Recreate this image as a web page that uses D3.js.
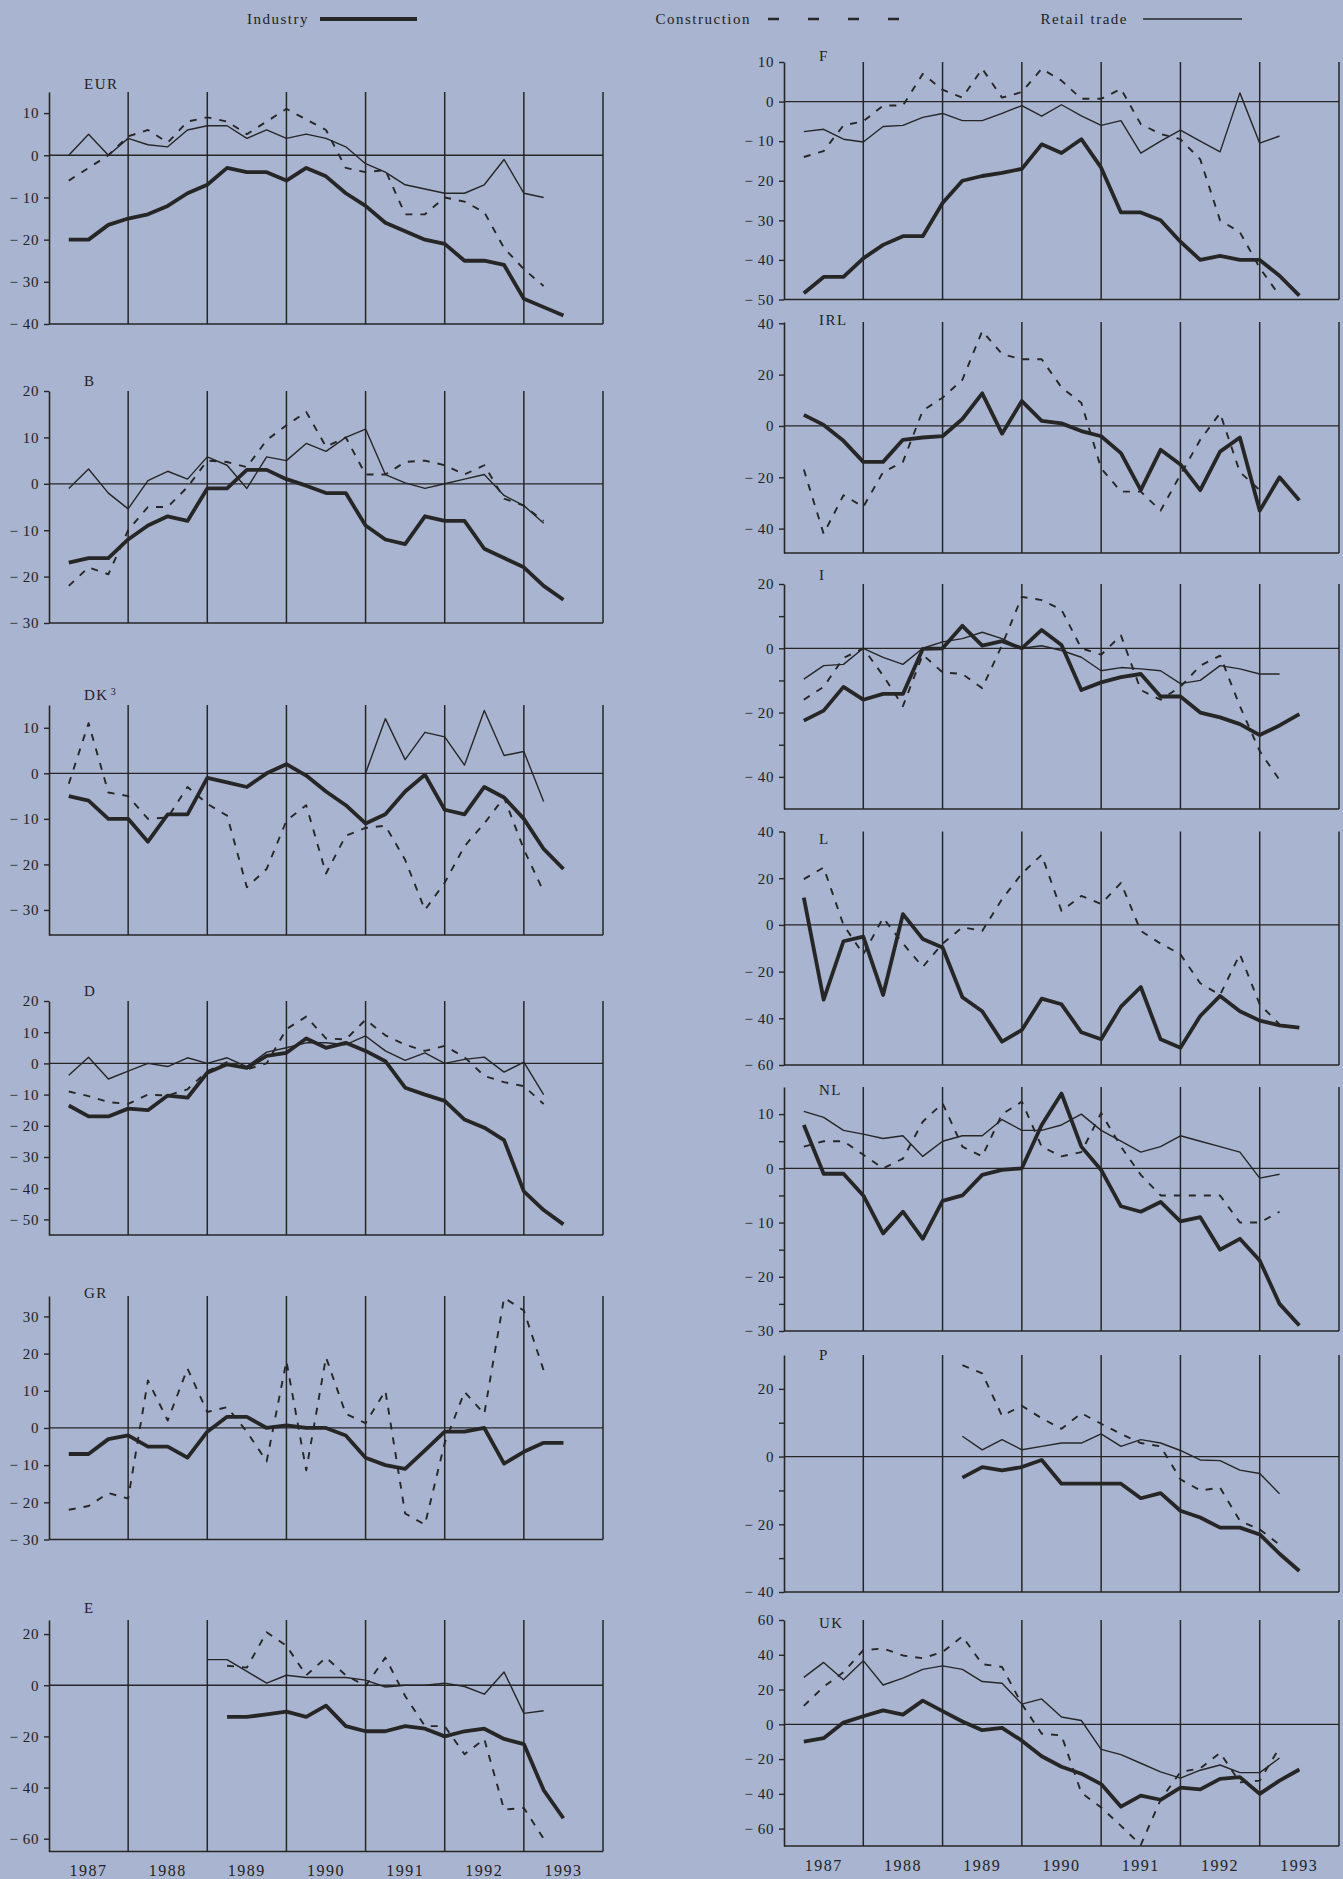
<!DOCTYPE html>
<html>
<head>
<meta charset="utf-8">
<script src="https://cdn.jsdelivr.net/npm/d3@7"></script>
<style>
  body { margin: 0; background: #a8b4d0; }
  svg { display: block; }
  text { font-family: "Liberation Serif", "DejaVu Serif", serif; fill: #222; }
</style>
</head>
<body>
<svg id="chart" width="1343" height="1879"></svg>
<script>
// Quarterly survey balances, 1987 Q1 .. 1993 Q2 (26 quarters), null = no data
const years = ['1987', '1988', '1989', '1990', '1991', '1992', '1993'];
const seriesNames = ['Industry', 'Construction', 'Retail trade'];
const _ = null;

const eurIndustry = [-20,-20,-16.5,-15,-14,-12,-9,-7,-3,-4,-4,-6,-3,-5,-9,-12,-16,-18,-20,-21,-25,-25,-26,-34,-36,-38];
const eurConstruction = [-6,-3,0,4.5,6,3,8,9,8,5,8,11,8.5,6,-3,-4,-3.5,-14,-14,-10,-11,-13.5,-22,-27,-31,_];
const eurRetail = [0,5,0,4,2.5,2,6,7,7,4,6,4,5,4,2,-2,-4,-7,-8,-9,-9,-7,-1,-9,-10,_];

const bIndustry = [-17,-16,-16,-12,-9,-7,-8,-1,-1,3,3,1,-0.4,-2,-2,-9,-12,-13,-7,-8,-8,-14,-16,-18,-22,-25];
const bConstruction = [-22,-18,-19.5,-10,-5,-5,-0.7,5,4.7,3.6,9.4,12.6,15.5,8,10,2,2,4.7,5,4,2,4,-3.2,-4.7,-8,_];
const bRetail = [-1,3.2,-2,-5.4,0.7,2.7,1,5.8,4,-1,5.8,5,8.7,7,10,11.8,2,0.2,-1,0,1,2,-2.5,-4.7,-8.5,_];

const dkIndustry = [-5,-6,-10,-10,-15,-9,-9,-1,-2,-3,0,2,-0.5,-4,-7,-11,-9,-4,-0.3,-8,-9,-3,-5.3,-10,-16.6,-21];
const dkConstruction = [-2.3,11,-4.2,-5,-10,-9.7,-3,-6.7,-9.3,-25,-21,-10.4,-7,-22,-13.7,-12,-11.5,-19,-30,-24,-16,-11,-5.3,-16.7,-26,_];
const dkRetail = [_,_,_,_,_,_,_,_,_,_,_,_,_,_,_,0,12,3,9,8,1.8,13.8,3.9,4.8,-6.2,_];

const dIndustry = [-13.5,-17,-17,-14.5,-15,-10.3,-11,-3,-0.3,-1.4,2.4,3.4,8,5,6.6,4,0.7,-7.8,-10,-12,-18,-20.6,-24.6,-41,-47,-51.6];
const dConstruction = [-9,-10.5,-12.4,-13,-10,-10.3,-8.3,-2.5,0.4,-1.9,0,11,15,8,7.7,14,9,6,4,5.6,2,-4,-6,-7.3,-13,_];
const dRetail = [-3.8,2,-5,-2.5,0,-1,1.8,0,1.8,-1,3.6,5,6.6,6.6,6,8.8,4,1,3.4,0,1.3,2,-2.8,0.4,-10,_];

const grIndustry = [-7,-7,-3,-2,-5,-5,-8,-1,3,3,0,0.7,0,0,-2,-8,-10,-11,-6,-1,-1,0,-9.6,-6.4,-4,-4];
const grConstruction = [-22,-21,-17.5,-19,12.8,2,16,4.3,5.6,-1,-9,18,-11.4,19,3.8,1.3,10,-23,-26,-4,9.7,3.8,35,31.6,15.5,_];

const eIndustry = [_,_,_,_,_,_,_,_,-12.4,-12.4,-11.4,-10.3,-12.4,-8,-16,-18,-18,-16,-17,-20,-18,-17,-21,-23,-41,-52];
const eConstruction = [_,_,_,_,_,_,_,_,7.6,6.9,20.7,15.4,3.9,10.8,3.9,-0.3,10.8,-4.2,-16,-16,-27,-21,-48.6,-48,-60,_];
const eRetail = [_,_,_,_,_,_,_,10,10,5.4,0.8,3.9,3,3,3,2,-0.7,0,0,0.8,-0.5,-3.5,5.2,-11,-10,_];

const fIndustry = [-48.4,-44.3,-44.3,-39.6,-36.2,-34,-34,-25.6,-20,-18.8,-18,-17,-10.8,-13,-9.5,-16.7,-28,-28,-30,-35.4,-40,-39,-40,-40,-44,-49];
const fConstruction = [-14,-12.5,-6,-5,-1,-1,7,3,1,8.3,1,2.4,8.3,5.3,0.7,0.7,3.2,-5.7,-8.2,-9.5,-14.6,-30,-33,-42,-49,_];
const fRetail = [-7.6,-7,-9.5,-10.2,-6.3,-6,-4,-3,-4.8,-4.8,-3,-1,-3.7,-0.8,-3.6,-6,-4.8,-13,-10,-7.2,-10,-12.7,2.2,-10.5,-8.7,_];

const irlIndustry = [4.3,0.4,-5.8,-14,-14,-5.4,-4.5,-4,2.7,12.7,-3,9.7,2,1,-2,-4,-10.6,-25,-9.3,-15,-25,-10,-4.5,-33,-20,-29];
const irlConstruction = [-17,-42,-27,-31.5,-18,-14,6,11,18,37,28,26,26,15,9,-16.5,-25.6,-25.6,-33,-19,-5.4,5,-18,-25,_,_];

const iIndustry = [-22.5,-19.4,-12,-16,-14.2,-14.2,-0.2,0,7,0.8,2.2,0,5.7,1,-13,-10.6,-9,-8,-15,-15,-20,-21.5,-23.6,-27,-24,-20.5];
const iConstruction = [-16,-12,-3,0,-8.5,-18,-2,-7.5,-8,-12.4,1,16,15,12,0,-2,4,-13,-16,-12,-5.4,-2.3,-18,-32,-41,_];
const iRetail = [-9.6,-5.4,-5,0,-2.8,-5,0,2,3,5,3,0,0.8,-0.7,-2.8,-7,-6,-6.4,-7,-11,-10,-5.4,-6.4,-8,-8,_];

const lIndustry = [11.7,-32,-7,-5,-30,4.6,-6,-9.7,-31,-37,-50,-45,-31.6,-34,-46,-49,-35,-26.6,-49,-52.6,-39,-30.4,-37,-41,-43,-44];
const lConstruction = [19.6,24.6,0,-12.6,3,-8,-18,-8,-1,-2.6,11,22,30,6,12.4,9,18,-2.6,-8,-12.6,-25,-30,-12.6,-34,-42.6,_];

const nlIndustry = [8,-1,-1,-5,-12,-8,-13,-6,-5,-1.2,-0.3,0,8,13.8,4,-0.3,-7,-8,-6.2,-9.8,-9,-15,-13,-17,-25,-29];
const nlConstruction = [4,5,5,2.5,0,1.8,8.6,12,4,2.2,10,12.3,4,2.2,3,10.2,4,-1.2,-5,-5,-5,-5,-10,-10,-8,_];
const nlRetail = [10.5,9.4,7,6.3,5.5,6,2.2,5,6,6,9,7,7,8,10,7,5,3,4,6,5,4,3,-1.8,-1.1,_];

const pIndustry = [_,_,_,_,_,_,_,_,-6.2,-3.1,-4.1,-3.1,-1,-8,-8,-8,-8,-12.3,-10.8,-16,-18,-21,-21,-23,-28.7,-33.8];
const pConstruction = [_,_,_,_,_,_,_,_,27,24.6,12,15,11.3,8.2,12.8,9.7,6.7,4,3,-6.7,-10,-9.2,-19,-21.5,-26,_];
const pRetail = [_,_,_,_,_,_,_,_,6,2,5,2,3,4,4,6.7,3,5,4,1.8,-1,-1.2,-4,-5,-11,_];

const ukIndustry = [-10,-8,1,4.6,8,5.6,13.6,7.6,1.6,-3.4,-2,-9.4,-18.4,-24.4,-28.4,-34.4,-47.4,-41,-43.4,-36.4,-37.4,-31.4,-30.4,-40,-32.4,-26];
const ukConstruction = [10.6,21.6,30,42.6,43.6,39.6,38,41.6,50.6,34.6,33,11.6,-5.4,-6.4,-39.4,-47.8,-58.4,-69.4,-43.4,-27.4,-25.4,-16.4,-33.4,-32.4,-13.4,_];
const ukRetail = [27,35.6,25.6,36.6,22.6,26.6,31.6,33.6,31.6,24.6,23.6,11.6,14.6,4.2,2.2,-14.4,-17.4,-22.4,-27.4,-31,-26.4,-23.4,-27.8,-27.8,-19.4,_];

// panel layout (pixel positions) and the series drawn in each
const columns = [{ x0: 49, x1: 603 }, { x0: 784, x1: 1339 }];
const panels = [
  { name: 'EUR', col: 0, top: 92, bottom: 324, domain: [-40, 15], ticks: [10,0,-10,-20,-30,-40], minor: [], labelY: 89, series: [eurIndustry, eurConstruction, eurRetail] },
  { name: 'B', col: 0, top: 391, bottom: 623, domain: [-30, 20], ticks: [20,10,0,-10,-20,-30], minor: [], labelY: 386, series: [bIndustry, bConstruction, bRetail] },
  { name: 'DK', sup: '3', col: 0, top: 705, bottom: 935, domain: [-35.5, 15], ticks: [10,0,-10,-20,-30], minor: [], labelY: 700, series: [dkIndustry, dkConstruction, dkRetail] },
  { name: 'D', col: 0, top: 1001, bottom: 1235, domain: [-55, 20], ticks: [20,10,0,-10,-20,-30,-40,-50], minor: [], labelY: 996, series: [dIndustry, dConstruction, dRetail] },
  { name: 'GR', col: 0, top: 1296, bottom: 1539.5, domain: [-30, 35.5], ticks: [30,20,10,0,-10,-20,-30], minor: [], labelY: 1298, series: [grIndustry, grConstruction, null] },
  { name: 'E', col: 0, top: 1620, bottom: 1851.5, domain: [-65, 25.5], ticks: [20,0,-20,-40,-60], minor: [], labelY: 1613, series: [eIndustry, eConstruction, eRetail], years: 1876 },
  { name: 'F', col: 1, top: 62, bottom: 299.5, domain: [-50, 10], ticks: [10,0,-10,-20,-30,-40,-50], minor: [], labelY: 61, series: [fIndustry, fConstruction, fRetail] },
  { name: 'IRL', col: 1, top: 322, bottom: 553, domain: [-49.5, 40.5], ticks: [40,20,0,-20,-40], minor: [], labelY: 325, series: [irlIndustry, irlConstruction, null] },
  { name: 'I', col: 1, top: 584, bottom: 809, domain: [-50, 20], ticks: [20,0,-20,-40], minor: [10,-10,-30], labelY: 580, series: [iIndustry, iConstruction, iRetail] },
  { name: 'L', col: 1, top: 831.5, bottom: 1065, domain: [-60, 40], ticks: [40,20,0,-20,-40,-60], minor: [], labelY: 844, series: [lIndustry, lConstruction, null] },
  { name: 'NL', col: 1, top: 1087, bottom: 1331, domain: [-30, 15], ticks: [10,0,-10,-20,-30], minor: [5,-5,-15,-25], labelY: 1095, series: [nlIndustry, nlConstruction, nlRetail] },
  { name: 'P', col: 1, top: 1355, bottom: 1592, domain: [-40, 30], ticks: [20,0,-20,-40], minor: [10,-10,-30], labelY: 1360, series: [pIndustry, pConstruction, pRetail] },
  { name: 'UK', col: 1, top: 1620, bottom: 1846, domain: [-70, 60], ticks: [60,40,20,0,-20,-40,-60], minor: [], labelY: 1628, series: [ukIndustry, ukConstruction, ukRetail], years: 1871 }
];

const ink = '#262626';
const seriesStyle = [
  { width: 3.8, dash: null },
  { width: 1.9, dash: '7,8' },
  { width: 1.4, dash: null }
];

const svg = d3.select('#chart');
const fmt = d => d < 0 ? '\u2212 ' + (-d) : String(d);

panels.forEach(p => {
  const c = columns[p.col];
  const x = d3.scaleLinear().domain([0, 28]).range([c.x0, c.x1]);
  const y = d3.scaleLinear().domain(p.domain).range([p.bottom, p.top]);
  const g = svg.append('g').attr('class', 'panel');

  // left axis with ticks
  const ax = g.append('g')
    .attr('transform', `translate(${c.x0},0)`)
    .call(d3.axisLeft(y).tickValues(p.ticks).tickFormat(fmt).tickSize(5).tickSizeOuter(0).tickPadding(5));
  ax.select('.domain').attr('stroke', ink).attr('stroke-width', 1.6);
  ax.selectAll('.tick line').attr('stroke', ink).attr('stroke-width', 1.4);
  ax.selectAll('.tick text').attr('font-size', 15).attr('fill', '#222')
    .attr('letter-spacing', 0.6)
    .attr('font-family', '"Liberation Serif", serif');
  if (p.minor.length) {
    const mx = g.append('g')
      .attr('transform', `translate(${c.x0},0)`)
      .call(d3.axisLeft(y).tickValues(p.minor).tickFormat('').tickSize(5).tickSizeOuter(0));
    mx.select('.domain').remove();
    mx.selectAll('.tick line').attr('stroke', ink).attr('stroke-width', 1.4);
  }

  // year dividers (incl. right edge), bottom line, zero line
  g.selectAll('.yearline').data(d3.range(1, 8)).enter().append('line')
    .attr('x1', k => x(4 * k)).attr('x2', k => x(4 * k))
    .attr('y1', p.top).attr('y2', p.bottom)
    .attr('stroke', ink).attr('stroke-width', 1.5);
  g.append('line').attr('x1', c.x0).attr('x2', c.x1)
    .attr('y1', p.bottom).attr('y2', p.bottom)
    .attr('stroke', ink).attr('stroke-width', 1.6);
  g.append('line').attr('x1', c.x0).attr('x2', c.x1)
    .attr('y1', y(0)).attr('y2', y(0))
    .attr('stroke', ink).attr('stroke-width', 1.3);

  // panel label
  const lab = g.append('text').attr('x', c.x0 + 35).attr('y', p.labelY)
    .attr('font-size', 15).attr('letter-spacing', 1.5).text(p.name);
  if (p.sup) lab.append('tspan').attr('dx', 2).attr('dy', -5).attr('font-size', 10).text(p.sup);

  // series
  const line = d3.line()
    .defined(d => d != null)
    .x((d, i) => x(i + 1))
    .y(d => y(d));
  p.series.forEach((vals, s) => {
    if (!vals) return;
    const st = seriesStyle[s];
    g.append('path')
      .datum(vals)
      .attr('fill', 'none')
      .attr('stroke', ink)
      .attr('stroke-width', st.width)
      .attr('stroke-linejoin', 'round')
      .attr('stroke-dasharray', st.dash)
      .attr('d', line);
  });

  // year labels under the bottom panels
  if (p.years) {
    g.selectAll('.yr').data(years).enter().append('text')
      .attr('x', (d, k) => x(4 * k + 2))
      .attr('y', p.years)
      .attr('text-anchor', 'middle')
      .attr('font-size', 16)
      .attr('letter-spacing', 1.5)
      .text(d => d);
  }
});

// legend
const legend = svg.append('g').attr('class', 'legend');
const legendItems = [
  { textEnd: 309, lx1: 320, lx2: 417 },
  { textEnd: 751, lx1: 768, lx2: 900 },
  { textEnd: 1128, lx1: 1143, lx2: 1242 }
];
legendItems.forEach((it, s) => {
  legend.append('text').attr('x', it.textEnd).attr('y', 24)
    .attr('text-anchor', 'end').attr('font-size', 15).attr('letter-spacing', 1.5)
    .text(seriesNames[s]);
  legend.append('line')
    .attr('x1', it.lx1).attr('x2', it.lx2).attr('y1', 19).attr('y2', 19)
    .attr('stroke', ink)
    .attr('stroke-width', s === 0 ? 3.8 : (s === 1 ? 2.4 : 1.4))
    .attr('stroke-dasharray', s === 1 ? '11,29' : null);
});
</script>
</body>
</html>
